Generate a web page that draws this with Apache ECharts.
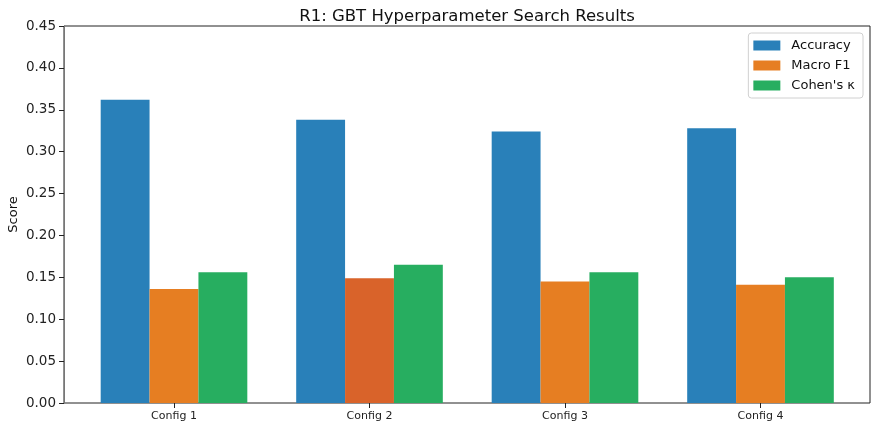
<!DOCTYPE html>
<html>
<head>
<meta charset="utf-8">
<script src="https://cdn.jsdelivr.net/npm/echarts@6/dist/echarts.min.js"></script>
<style>
html, body { margin: 0; padding: 0; background: #fff; }
#chart { width: 877px; height: 430px; }
</style>
</head>
<body>
<div id="chart"></div>
<script>
// 数据
var configs = ['Config 1', 'Config 2', 'Config 3', 'Config 4'];
var accuracy = [0.362, 0.338, 0.324, 0.328];
var macroF1 = [0.136, 0.149, 0.145, 0.141];
var kappa = [0.156, 0.165, 0.156, 0.150];
var yTicks = [0, 0.05, 0.10, 0.15, 0.20, 0.25, 0.30, 0.35, 0.40, 0.45];

var chart = echarts.init(document.getElementById('chart'));
var font = 'DejaVu Sans';

// Config 2 的 Macro F1 颜色较深
var highlightIdx = 1;
var f1Data = macroF1.map(function (v, i) {
    return i === highlightIdx ? { value: v, itemStyle: { color: '#d9632a' } } : v;
});

var option = {
    animation: false,
    textStyle: { fontFamily: font },
    title: {
        text: 'R1: GBT Hyperparameter Search Results',
        left: 462,
        textAlign: 'center',
        top: 3,
        textStyle: { fontFamily: font, fontSize: 16.5, fontWeight: 'normal', color: '#111' }
    },
    legend: {
        orient: 'vertical',
        right: 14,
        top: 33,
        itemWidth: 27,
        itemHeight: 10,
        itemGap: 5,
        padding: [5, 8, 5, 5],
        borderColor: '#d0d0d0',
        borderWidth: 1,
        borderRadius: 3,
        icon: 'rect',
        textStyle: { fontFamily: font, fontSize: 13, color: '#111', padding: [0, 0, 0, 6], lineHeight: 15 },
        data: ['Accuracy', 'Macro F1', "Cohen's κ"]
    },
    grid: [
        { left: 64, right: 7, top: 26, bottom: 27, containLabel: false, outerBoundsMode: 'none',
          show: true, borderColor: '#222', borderWidth: 1, backgroundColor: 'transparent' },
        { left: 76.25, right: 18.75, top: 26, bottom: 27, containLabel: false, outerBoundsMode: 'none' }
    ],
    xAxis: [
        { type: 'value', gridIndex: 0, min: 0, max: 1, show: false },
        {
            type: 'category',
            gridIndex: 1,
            data: configs,
            axisLine: { show: false },
            axisTick: { show: true, alignWithLabel: true, length: 5, lineStyle: { color: '#222' } },
            axisLabel: { fontFamily: font, fontSize: 11, color: '#222', margin: 8 },
            splitLine: { show: false }
        }
    ],
    yAxis: [
        {
            type: 'value',
            gridIndex: 0,
            min: 0,
            max: 0.45,
            interval: 0.05,
            name: 'Score',
            nameLocation: 'middle',
            nameGap: 44,
            nameMoveOverlap: false,
            nameTextStyle: { fontFamily: font, fontSize: 13, color: '#111' },
            axisLine: { show: true, lineStyle: { color: '#777' } },
            axisTick: { show: true, length: 5, lineStyle: { color: '#222' } },
            axisLabel: {
                fontFamily: font, fontSize: 13.5, color: '#222', margin: 8,
                formatter: function (v) { return v.toFixed(2); }
            },
            splitLine: { show: false }
        },
        { type: 'value', gridIndex: 1, min: 0, max: 0.45, show: false }
    ],
    series: [
        {
            name: 'Accuracy', type: 'bar', xAxisIndex: 1, yAxisIndex: 1,
            barWidth: '25%', barGap: '0%',
            itemStyle: { color: '#2980b9' },
            data: accuracy
        },
        {
            name: 'Macro F1', type: 'bar', xAxisIndex: 1, yAxisIndex: 1,
            barWidth: '25%', barGap: '0%',
            itemStyle: { color: '#e67e22' },
            data: f1Data
        },
        {
            name: "Cohen's κ", type: 'bar', xAxisIndex: 1, yAxisIndex: 1,
            barWidth: '25%', barGap: '0%',
            itemStyle: { color: '#27ae60' },
            data: kappa
        }
    ]
};

chart.setOption(option);
</script>
</body>
</html>
